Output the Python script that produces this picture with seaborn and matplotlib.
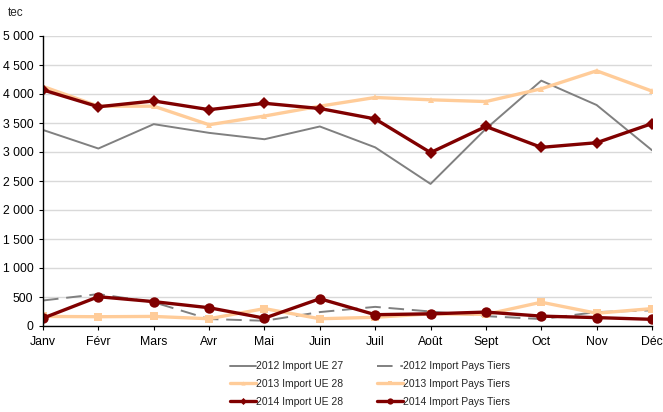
import matplotlib
matplotlib.use("Agg")
import matplotlib.pyplot as plt
import seaborn as sns
import pandas as pd
import numpy as np
from matplotlib.ticker import FuncFormatter

months = ["Janv", "Févr", "Mars", "Avr", "Mai", "Juin", "Juil", "Août", "Sept", "Oct", "Nov", "Déc"]

ue_2012 = [3380, 3060, 3480, 3330, 3220, 3440, 3080, 2450, 3400, 4230, 3810, 3030]
pt_2012 = [440, 550, 410, 120, 90, 240, 330, 250, 170, 120, 240, 270]
ue_2013 = [4130, 3790, 3790, 3470, 3620, 3790, 3940, 3900, 3870, 4090, 4400, 4050]
pt_2013 = [165, 160, 165, 125, 300, 125, 150, 210, 200, 410, 220, 300]
ue_2014 = [4070, 3780, 3880, 3730, 3840, 3750, 3570, 2990, 3440, 3080, 3160, 3490]
pt_2014 = [135, 505, 420, 315, 135, 470, 195, 210, 240, 170, 145, 115]

sns.set_theme(style="white")
plt.rcParams['font.family'] = ['Liberation Sans', 'DejaVu Sans']

fig = plt.figure(figsize=(6.63, 4.12), dpi=100)
ax = fig.add_axes([43/663, 1-326/412, (652-43)/663, (326-36)/412])

x = np.arange(len(months))
grey = "#808080"
peach = "#FFCC99"
dred = "#800000"

series = [
    ("2012 Import UE 27", ue_2012, dict(color=grey, lw=1.4)),
    ("2013 Import UE 28", ue_2013, dict(color=peach, lw=2.4, marker="^", markersize=5, markeredgewidth=0)),
    ("2014 Import UE 28", ue_2014, dict(color=dred, lw=2.4, marker="D", markersize=6, markeredgewidth=0)),
    ("2012 Import Pays Tiers", pt_2012, dict(color=grey, lw=1.4, dashes=(8, 4))),
    ("2013 Import Pays Tiers", pt_2013, dict(color=peach, lw=2.4, marker="s", markersize=5.5, markeredgewidth=0)),
    ("2014 Import Pays Tiers", pt_2014, dict(color=dred, lw=2.4, marker="o", markersize=7.5, markeredgewidth=0)),
]

for label, vals, kw in series:
    df = pd.DataFrame({"x": x, "y": vals})
    dashes = kw.pop("dashes", None)
    sns.lineplot(data=df, x="x", y="y", ax=ax, label=label, **kw)
    if dashes is not None:
        ax.lines[-1].set_dashes(dashes)

ax.set_xlim(0, 11)
ax.set_ylim(0, 5000)
ax.set_yticks(np.arange(0, 5001, 500))
ax.yaxis.set_major_formatter(FuncFormatter(lambda v, p: f"{int(v):,}".replace(",", " ")))
ax.set_xticks(x)
ax.set_xticklabels(months)
ax.set_xlabel("")
ax.set_ylabel("")
ax.grid(axis="y", color="#d9d9d9", lw=1)
ax.set_axisbelow(True)
for s in ["top", "right"]:
    ax.spines[s].set_visible(False)
for s in ["left", "bottom"]:
    ax.spines[s].set_color("black")
    ax.spines[s].set_linewidth(1)
ax.tick_params(axis="both", which="both", labelsize=8.8, colors="black", length=3, width=0.8, direction="out", left=True, bottom=True, pad=4)

fig.text(8/663, 1-13/412, "tec", fontsize=8.5, va="center", ha="left")

handles, labels = ax.get_legend_handles_labels()
ax.legend(handles, labels, ncol=2, loc="center", bbox_to_anchor=(370/663, 1-384/412),
          bbox_transform=fig.transFigure, frameon=False, fontsize=7.5, markerscale=0.6,
          handlelength=2.5, handletextpad=0.05, columnspacing=3.2, labelspacing=0.75)

fig.savefig("out.png", dpi=100)
